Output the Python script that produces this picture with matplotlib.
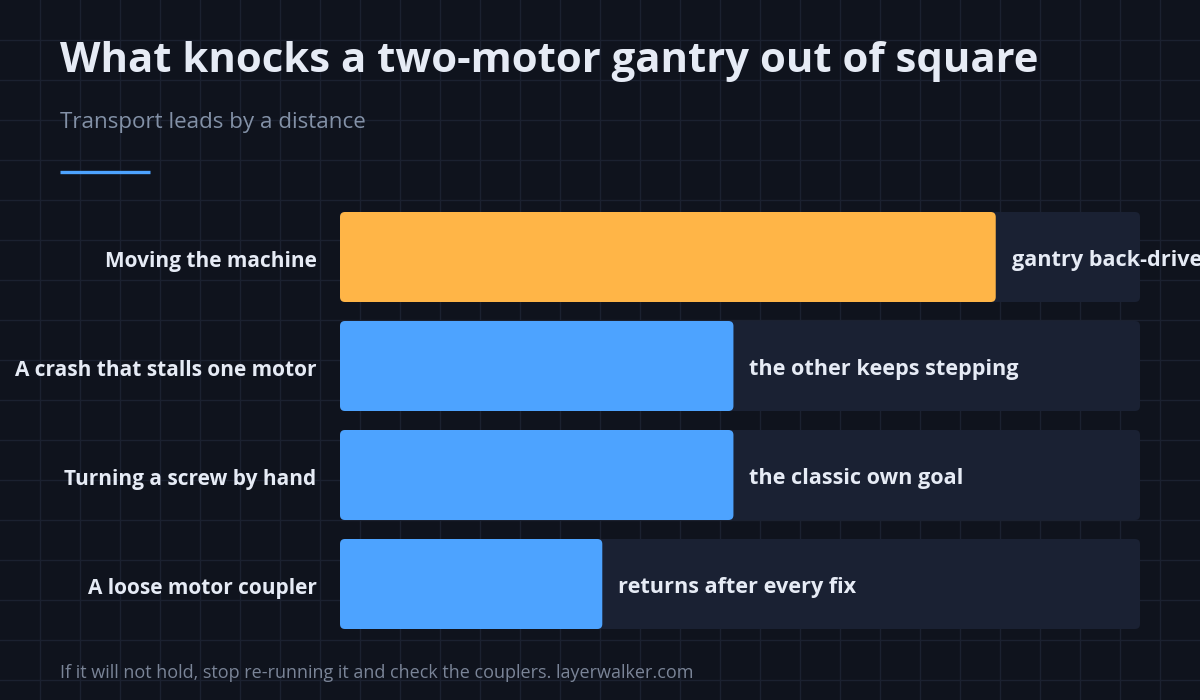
import matplotlib
matplotlib.use("Agg")
import matplotlib.pyplot as plt
import matplotlib.transforms as mtransforms
from matplotlib.patches import FancyBboxPatch
import numpy as np

# ---- data ----
categories = ["Moving the machine", "A crash that stalls one motor",
              "Turning a screw by hand", "A loose motor coupler"]
values = [5, 3, 3, 2]
notes = ["gantry back-drive", "the other keeps stepping",
         "the classic own goal", "returns after every fix"]
highlight = [True, False, False, False]
scale_max = 6.1

title = "What knocks a two-motor gantry out of square"
subtitle = "Transport leads by a distance"
footer = "If it will not hold, stop re-running it and check the couplers. layerwalker.com"

# ---- style ----
BG = "#0f131d"
GRID = "#1b2130"
TRACK = "#1a2133"
ORANGE = "#ffb547"
BLUE = "#4da3ff"
TEXT = "#e6ebf5"
MUTED = "#8391a7"
FONT = ["Open Sans", "DejaVu Sans"]

W, H = 1200, 700
fig = plt.figure(figsize=(W / 100, H / 100), dpi=100, facecolor=BG)

# background grid axes in pixel space
bg = fig.add_axes([0, 0, 1, 1], zorder=0)
bg.set_xlim(0, W)
bg.set_ylim(H, 0)
bg.set_facecolor(BG)
bg.set_xticks(np.arange(40, W, 40))
bg.set_yticks(np.arange(40, H, 40))
bg.grid(True, color=GRID, linewidth=1.0)
bg.tick_params(length=0, labelbottom=False, labelleft=False)
for s in bg.spines.values():
    s.set_visible(False)

# titles
fig.text(60 / W, 1 - 72 / H, title, fontsize=30.2, fontweight="bold",
         color=TEXT, family=FONT, ha="left", va="baseline")
fig.text(60 / W, 1 - 128 / H, subtitle, fontsize=16.1, color=MUTED,
         family=FONT, ha="left", va="baseline")
bg.plot([60, 150], [172, 172], color=BLUE, linewidth=2.4, solid_capstyle="butt")
fig.text(60 / W, 1 - 678 / H, footer, fontsize=13, color="#7a8497",
         family=FONT, ha="left", va="baseline")

# bar axes
left, right, top, bottom = 340, 1140, 212, 629
ax = fig.add_axes([left / W, 1 - bottom / H, (right - left) / W, (bottom - top) / H],
                  zorder=1)
ax.set_facecolor("none")
n = len(categories)
pitch_px = 109.0
bar_px = 90.0
bh = bar_px / pitch_px
ax.set_xlim(0, scale_max)
ax.set_ylim(n - 1 + bh / 2, -bh / 2)
y = np.arange(n)

px_per_x = (right - left) / scale_max
px_per_y = pitch_px
r_px = 5
rx = r_px / px_per_x
aspect = (1 / px_per_y) / (1 / px_per_x)

tracks = ax.barh(y, [scale_max] * n, height=bh, color=TRACK)
bars = ax.barh(y, values, height=bh,
               color=[ORANGE if h else BLUE for h in highlight])


def roundify(container, zo):
    for rect in container:
        x0, y0 = rect.get_x(), rect.get_y()
        w, h = rect.get_width(), rect.get_height()
        p = FancyBboxPatch((x0, y0), w, h,
                           boxstyle=f"round,pad=0,rounding_size={rx}",
                           mutation_aspect=aspect, facecolor=rect.get_facecolor(),
                           edgecolor="none", zorder=zo)
        rect.set_visible(False)
        ax.add_patch(p)


roundify(tracks, 1)
roundify(bars, 2)

for yi, v, t in zip(y, values, notes):
    ax.annotate(t, (v, yi), xytext=(16, -3), textcoords="offset pixels",
                ha="left", va="center", fontsize=15.6, fontweight="bold",
                color=TEXT, family=FONT, annotation_clip=False, clip_on=False,
                zorder=3)

ax.set_yticks(y)
ax.set_yticklabels(categories, fontsize=15.0, fontweight="bold", color=TEXT,
                   family=FONT, va="center_baseline")
ax.tick_params(axis="y", length=0, pad=17)
ax.tick_params(axis="x", length=0, labelbottom=False)
shift = mtransforms.ScaledTranslation(0, -2 / 100, fig.dpi_scale_trans)
for lab in ax.get_yticklabels():
    lab.set_transform(lab.get_transform() + shift)
for s in ax.spines.values():
    s.set_visible(False)

fig.savefig("out.png", dpi=100, facecolor=BG)
